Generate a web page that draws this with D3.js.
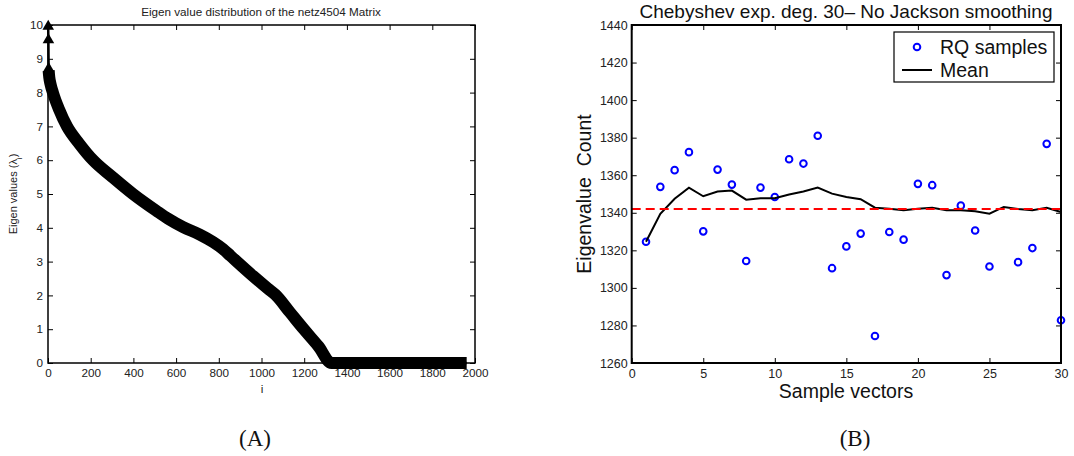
<!DOCTYPE html>
<html>
<head>
<meta charset="utf-8">
<script src="https://cdnjs.cloudflare.com/ajax/libs/d3/7.8.5/d3.min.js"></script>
<style>
  body { margin: 0; background: #fff; }
  svg { display: block; font-family: "Liberation Sans", Arial, sans-serif; }
</style>
</head>
<body>
<div id="chart"></div>
<script>
// (A) eigenvalues of netz4504, read along the centre of the marker band
const eigIndex = [1, 2, 3, 6, 12, 23, 52, 89, 145, 211, 302, 398, 508, 562, 633, 711, 773, 820, 855, 961, 1030, 1065, 1133, 1198, 1266, 1328, 1400, 1500, 1600, 1700, 1800, 1900, 1961];
const eigValue = [9.9, 9.5, 8.65, 8.45, 8.25, 8.0, 7.5, 7.0, 6.5, 6.0, 5.5, 5.0, 4.5, 4.27, 4.02, 3.8, 3.58, 3.37, 3.17, 2.57, 2.2, 2.02, 1.5, 1.0, 0.5, 0, 0, 0, 0, 0, 0, 0, 0];
const eigXTicks = [0, 200, 400, 600, 800, 1000, 1200, 1400, 1600, 1800, 2000];
const eigYTicks = [0, 1, 2, 3, 4, 5, 6, 7, 8, 9, 10];

// (B) eigenvalue count estimates
const sampleVec = [1, 2, 3, 4, 5, 6, 7, 8, 9, 10, 11, 12, 13, 14, 15, 16, 17, 18, 19, 20, 21, 22, 23, 24, 25, 26, 27, 28, 29, 30];
const rqSamples = [1324.6, 1353.8, 1362.7, 1372.3, 1330.1, 1363.0, 1355.0, 1314.3, 1353.4, 1348.4, 1368.5, 1366.2, 1381.0, 1310.5, 1322.1, 1328.9, 1274.4, 1329.8, 1325.7, 1355.4, 1354.7, 1306.8, 1343.8, 1330.6, 1311.4, 1433.0, 1313.7, 1321.2, 1376.7, 1282.8];
const meanCount = [1324.6, 1339.5, 1347.5, 1353.4, 1348.8, 1351.3, 1351.8, 1347.0, 1347.7, 1347.7, 1349.7, 1351.3, 1353.4, 1350.2, 1348.4, 1347.2, 1342.7, 1342.2, 1341.3, 1342.2, 1342.7, 1341.3, 1341.3, 1340.8, 1339.5, 1343.1, 1342.0, 1341.3, 1342.7, 1340.4];
const exactCount = 1342;
const cntXTicks = [0, 5, 10, 15, 20, 25, 30];
const cntYTicks = [1260, 1280, 1300, 1320, 1340, 1360, 1380, 1400, 1420, 1440];

const width = 1074, height = 456;

const svg = d3.select("#chart")
  .append("svg")
  .attr("width", width)
  .attr("height", height);

// matlab style box: inward ticks on all four sides
function boxAxes(g, x, y, xTicks, yTicks, o) {
  const [x0, x1] = x.range();
  const [y0, y1] = y.range();
  const t = 5;

  const bottom = g.append("g")
    .attr("transform", "translate(0," + y0 + ")")
    .call(d3.axisBottom(x).tickValues(xTicks).tickSize(-t).tickPadding(o.padX).tickFormat(d3.format("d")));
  const left = g.append("g")
    .attr("transform", "translate(" + x0 + ",0)")
    .call(d3.axisLeft(y).tickValues(yTicks).tickSize(-t).tickPadding(o.padY).tickFormat(d3.format("d")));
  g.append("g")
    .attr("transform", "translate(0," + y1 + ")")
    .call(d3.axisTop(x).tickValues(xTicks).tickSize(-t).tickFormat(""));
  g.append("g")
    .attr("transform", "translate(" + x1 + ",0)")
    .call(d3.axisRight(y).tickValues(yTicks).tickSize(-t).tickFormat(""));

  g.selectAll(".domain").remove();
  g.selectAll(".tick line").attr("stroke", "#000").attr("stroke-width", 1);
  [bottom, left].forEach(a => a.selectAll("text")
    .attr("fill", "#222")
    .style("font-size", o.font + "px"));

  g.append("rect")
    .attr("x", x0).attr("y", y1)
    .attr("width", x1 - x0).attr("height", y0 - y1)
    .attr("fill", "none")
    .attr("stroke", "#000")
    .attr("stroke-width", o.lw);
}

// ---------- (A) ----------
const gA = svg.append("g");
const xA = d3.scaleLinear().domain([0, 2000]).range([48, 475]);
const yA = d3.scaleLinear().domain([0, 10]).range([363, 25]);
const eig = eigIndex.map((d, i) => ({ i: d, v: eigValue[i] }));

const lineA = d3.line().x(d => xA(d.i)).y(d => yA(d.v)).curve(d3.curveMonotoneX);

// dense triangle markers form a thick band
gA.append("path")
  .datum(eig.slice(2))
  .attr("fill", "none")
  .attr("stroke", "#000")
  .attr("stroke-width", 12)
  .attr("stroke-linejoin", "round")
  .attr("d", lineA);

gA.append("path")
  .datum(eig)
  .attr("fill", "none")
  .attr("stroke", "#000")
  .attr("stroke-width", 2.5)
  .attr("d", lineA);

// the isolated largest eigenvalues keep their own markers
gA.selectAll(".tri")
  .data(eig.slice(0, 3))
  .enter().append("path")
  .attr("class", "tri")
  .attr("transform", d => "translate(" + xA(d.i) + "," + (yA(d.v) - 2) + ")")
  .attr("d", d3.symbol(d3.symbolTriangle, 58))
  .attr("fill", "#000");

boxAxes(gA, xA, yA, eigXTicks, eigYTicks, { padX: 6, padY: 5, font: 11.7, lw: 1.5 });

gA.append("text")
  .attr("x", 261).attr("y", 16)
  .attr("text-anchor", "middle")
  .style("font-size", "11.7px")
  .attr("fill", "#222")
  .text("Eigen value distribution of the netz4504 Matrix");

gA.append("text")
  .attr("x", 262).attr("y", 393)
  .attr("text-anchor", "middle")
  .style("font-size", "11.7px")
  .attr("fill", "#222")
  .text("i");

const ylabA = gA.append("text")
  .attr("transform", "translate(17,194) rotate(-90)")
  .attr("text-anchor", "middle")
  .style("font-size", "11px")
  .attr("fill", "#222");
ylabA.append("tspan").text("Eigen values (\u03bb");
ylabA.append("tspan").attr("baseline-shift", "sub").style("font-size", "8px").text("i");
ylabA.append("tspan").text(")");

// ---------- (B) ----------
const gB = svg.append("g");
const xB = d3.scaleLinear().domain([0, 30]).range([631.7, 1061]);
const yB = d3.scaleLinear().domain([1260, 1440]).range([363, 25]);

gB.selectAll(".rq")
  .data(sampleVec)
  .enter().append("circle")
  .attr("class", "rq")
  .attr("cx", d => xB(d))
  .attr("cy", (d, i) => yB(rqSamples[i]))
  .attr("r", 3.3)
  .attr("fill", "none")
  .attr("stroke", "#0000ff")
  .attr("stroke-width", 2);

gB.append("path")
  .datum(sampleVec)
  .attr("fill", "none")
  .attr("stroke", "#000")
  .attr("stroke-width", 2)
  .attr("d", d3.line().x(d => xB(d)).y((d, i) => yB(meanCount[i])));

gB.append("line")
  .attr("x1", xB(0)).attr("x2", xB(30))
  .attr("y1", yB(exactCount)).attr("y2", yB(exactCount))
  .attr("stroke", "#ff0000")
  .attr("stroke-width", 2)
  .attr("stroke-dasharray", "9,5");

boxAxes(gB, xB, yB, cntXTicks, cntYTicks, { padX: 6, padY: 4, font: 12.5, lw: 2 });

gB.append("text")
  .attr("x", 846).attr("y", 18)
  .attr("text-anchor", "middle")
  .style("font-size", "19px")
  .attr("fill", "#111")
  .text("Chebyshev exp. deg. 30\u2013 No Jackson smoothing");

gB.append("text")
  .attr("x", 846).attr("y", 398)
  .attr("text-anchor", "middle")
  .style("font-size", "19.5px")
  .attr("fill", "#111")
  .text("Sample vectors");

gB.append("text")
  .attr("transform", "translate(591,194) rotate(-90)")
  .attr("text-anchor", "middle")
  .style("font-size", "19.5px")
  .style("white-space", "pre")
  .attr("fill", "#111")
  .text("Eigenvalue  Count");

// legend
const leg = gB.append("g").attr("transform", "translate(894,32)");
leg.append("rect")
  .attr("width", 160).attr("height", 50)
  .attr("fill", "#fff")
  .attr("stroke", "#000")
  .attr("stroke-width", 1.2);
leg.append("circle")
  .attr("cx", 23).attr("cy", 15).attr("r", 3.3)
  .attr("fill", "none").attr("stroke", "#0000ff").attr("stroke-width", 2);
leg.append("line")
  .attr("x1", 8).attr("x2", 38).attr("y1", 38).attr("y2", 38)
  .attr("stroke", "#000").attr("stroke-width", 2);
leg.selectAll(".lt")
  .data(["RQ samples", "Mean"])
  .enter().append("text")
  .attr("x", 46)
  .attr("y", (d, i) => 22 + i * 23)
  .style("font-size", "19.5px")
  .attr("fill", "#111")
  .text(d => d);

// captions
svg.selectAll(".cap")
  .data([{ t: "(A)", x: 255 }, { t: "(B)", x: 855 }])
  .enter().append("text")
  .attr("x", d => d.x).attr("y", 446)
  .attr("text-anchor", "middle")
  .style("font-family", "'Liberation Serif', serif")
  .style("font-size", "23px")
  .attr("fill", "#111")
  .text(d => d.t);
</script>
</body>
</html>
